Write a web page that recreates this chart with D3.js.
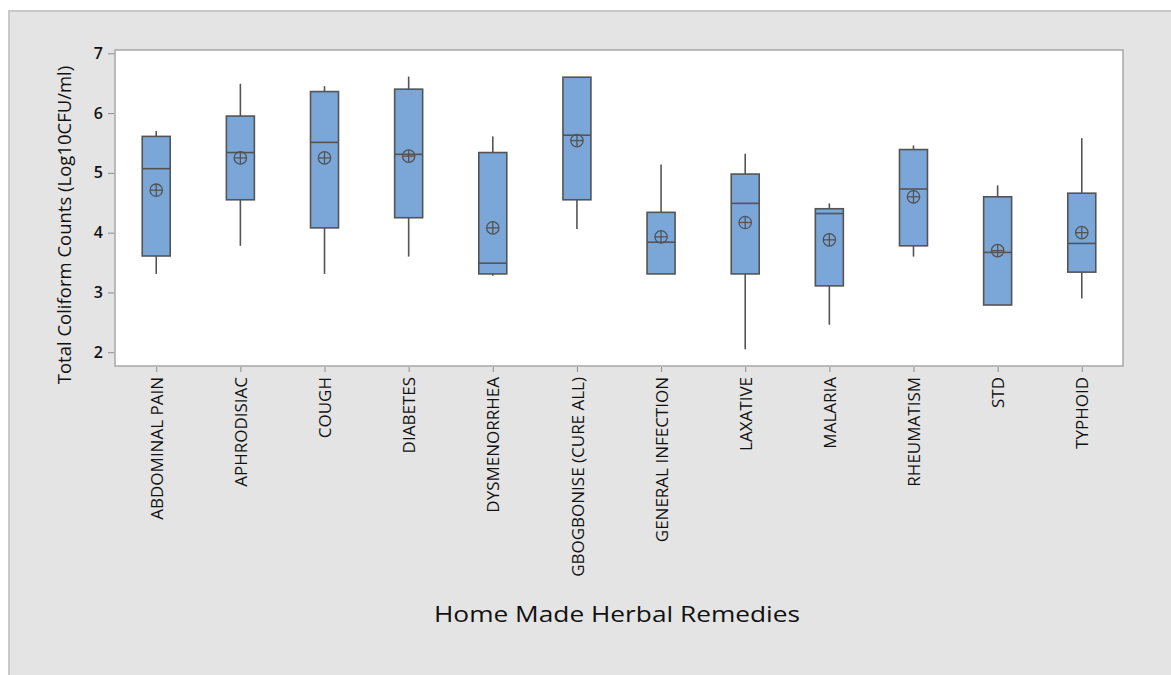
<!DOCTYPE html>
<html>
<head>
<meta charset="utf-8">
<script src="https://cdn.jsdelivr.net/npm/d3@7"></script>
<style>
  body { margin: 0; background: #fff; }
  text { font-family: "Open Sans", "Noto Sans", sans-serif; fill: #111; }
</style>
</head>
<body>
<div id="canvas"></div>
<script>
const categories = ["ABDOMINAL PAIN", "APHRODISIAC", "COUGH", "DIABETES", "DYSMENORRHEA",
  "GBOGBONISE (CURE ALL)", "GENERAL INFECTION", "LAXATIVE", "MALARIA", "RHEUMATISM", "STD", "TYPHOID"];
const whiskerLow  = [3.31, 3.78, 3.31, 3.60, 3.28, 4.06, 3.31, 2.05, 2.46, 3.60, 2.79, 2.90];
const q1          = [3.61, 4.55, 4.08, 4.25, 3.31, 4.55, 3.31, 3.31, 3.11, 3.78, 2.79, 3.34];
const median      = [5.07, 5.34, 5.51, 5.31, 3.49, 5.63, 3.84, 4.49, 4.32, 4.73, 3.67, 3.82];
const q3          = [5.61, 5.95, 6.36, 6.40, 5.34, 6.60, 4.34, 4.98, 4.40, 5.39, 4.60, 4.66];
const whiskerHigh = [5.70, 6.49, 6.45, 6.61, 5.61, 6.60, 5.14, 5.32, 4.49, 5.46, 4.79, 5.58];
const mean        = [4.71, 5.25, 5.25, 5.28, 4.08, 5.54, 3.93, 4.17, 3.88, 4.60, 3.70, 4.00];
const yTicks = [2, 3, 4, 5, 6, 7];

const width = 1171;
const height = 675;
const plot = { left: 115, top: 50, right: 1123, bottom: 366 };
const stroke = "#545454";

const svg = d3.select("#canvas").append("svg")
  .attr("width", width)
  .attr("height", height);

// outer panel
svg.append("rect")
  .attr("x", 9).attr("y", 11)
  .attr("width", width).attr("height", height)
  .attr("fill", "#e4e4e4")
  .attr("stroke", "#c9c9c9")
  .attr("stroke-width", 2);

svg.append("rect")
  .attr("x", plot.left).attr("y", plot.top)
  .attr("width", plot.right - plot.left).attr("height", plot.bottom - plot.top)
  .attr("fill", "#fff")
  .attr("stroke", "#a6a6a6")
  .attr("stroke-width", 1.5);

const x = d3.scalePoint()
  .domain(categories)
  .range([plot.left, plot.right])
  .padding(0.49);

const y = d3.scaleLinear()
  .domain([1.77, 7.055])
  .range([plot.bottom, plot.top]);

const yAxis = svg.append("g")
  .attr("transform", `translate(${plot.left - 1},0)`)
  .call(d3.axisLeft(y).tickValues(yTicks).tickFormat(d3.format("d"))
    .tickSize(6).tickSizeOuter(0).tickPadding(5));
yAxis.select(".domain").remove();
yAxis.selectAll(".tick line").attr("stroke", "#8c8c8c");
yAxis.selectAll(".tick text")
  .style("font-size", "16px")
  .style("font-weight", "600")
  .attr("fill", "#1a1a1a");

const xAxis = svg.append("g")
  .attr("transform", `translate(0,${plot.bottom + 1})`)
  .call(d3.axisBottom(x).tickSize(5).tickSizeOuter(0));
xAxis.select(".domain").remove();
xAxis.selectAll(".tick line").attr("stroke", "#8c8c8c");
xAxis.selectAll(".tick text")
  .style("font-size", "17px")
  .attr("fill", "#111")
  .attr("transform", "rotate(-90)")
  .attr("x", -10)
  .attr("y", 0)
  .attr("dy", "0.36em")
  .style("text-anchor", "end");

const boxW = 28;
const boxes = svg.append("g").selectAll("g")
  .data(categories)
  .join("g");

boxes.append("line")
  .attr("x1", d => x(d)).attr("x2", d => x(d))
  .attr("y1", (d, i) => y(whiskerHigh[i]))
  .attr("y2", (d, i) => y(q3[i]))
  .attr("stroke", stroke).attr("stroke-width", 1.6);

boxes.append("line")
  .attr("x1", d => x(d)).attr("x2", d => x(d))
  .attr("y1", (d, i) => y(q1[i]))
  .attr("y2", (d, i) => y(whiskerLow[i]))
  .attr("stroke", stroke).attr("stroke-width", 1.6);

boxes.append("rect")
  .attr("x", d => x(d) - boxW / 2)
  .attr("y", (d, i) => y(q3[i]))
  .attr("width", boxW)
  .attr("height", (d, i) => y(q1[i]) - y(q3[i]))
  .attr("fill", "#7ba6d8")
  .attr("stroke", stroke)
  .attr("stroke-width", 1.6);

boxes.append("line")
  .attr("x1", d => x(d) - boxW / 2).attr("x2", d => x(d) + boxW / 2)
  .attr("y1", (d, i) => y(median[i]))
  .attr("y2", (d, i) => y(median[i]))
  .attr("stroke", stroke).attr("stroke-width", 1.6);

// mean symbol: circle with cross
const r = 6.2;
boxes.append("circle")
  .attr("cx", d => x(d))
  .attr("cy", (d, i) => y(mean[i]))
  .attr("r", r)
  .attr("fill", "none")
  .attr("stroke", stroke).attr("stroke-width", 1.3);
boxes.append("line")
  .attr("x1", d => x(d) - r).attr("x2", d => x(d) + r)
  .attr("y1", (d, i) => y(mean[i])).attr("y2", (d, i) => y(mean[i]))
  .attr("stroke", stroke).attr("stroke-width", 1.3);
boxes.append("line")
  .attr("x1", d => x(d)).attr("x2", d => x(d))
  .attr("y1", (d, i) => y(mean[i]) - r).attr("y2", (d, i) => y(mean[i]) + r)
  .attr("stroke", stroke).attr("stroke-width", 1.3);

// axis titles
svg.append("text")
  .attr("x", 617).attr("y", 622)
  .attr("text-anchor", "middle")
  .attr("textLength", 366)
  .attr("lengthAdjust", "spacingAndGlyphs")
  .style("font-size", "21px")
  .text("Home Made Herbal Remedies");

svg.append("text")
  .attr("transform", "translate(71,225) rotate(-90)")
  .attr("text-anchor", "middle")
  .style("font-size", "18.5px")
  .text("Total Coliform Counts (Log10CFU/ml)");
</script>
</body>
</html>
